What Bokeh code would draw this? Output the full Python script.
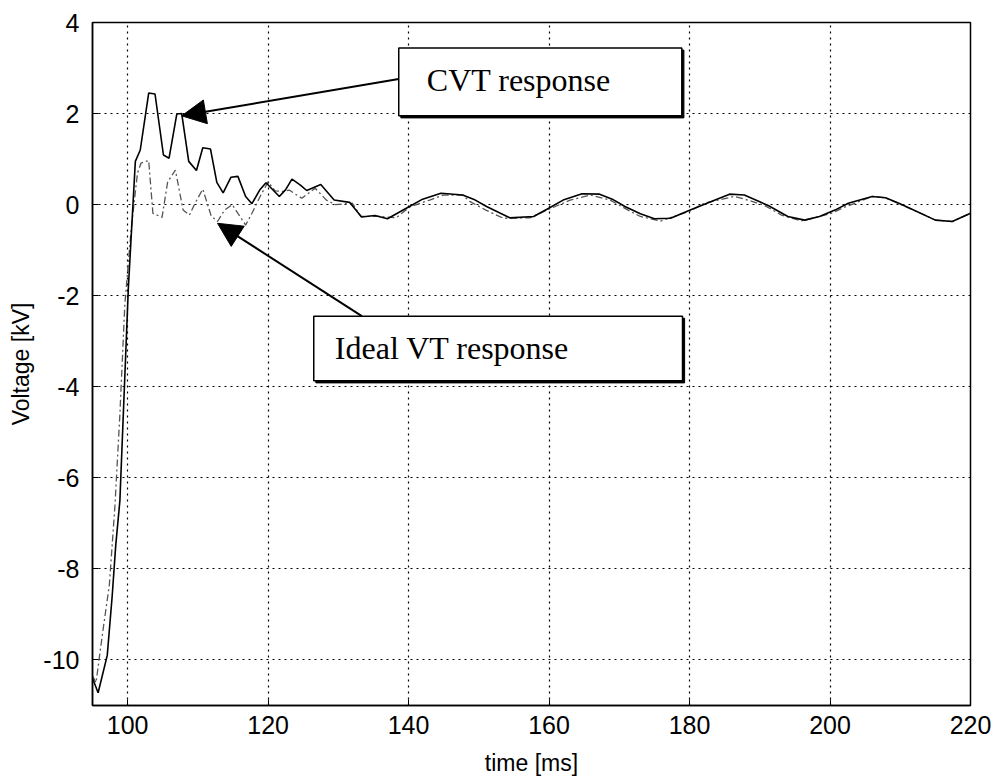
from bokeh.plotting import figure
from bokeh.models import (Arrow, NormalHead, BoxAnnotation, Label, FixedTicker)
from bokeh.embed import file_html
from bokeh.resources import INLINE

# CVT secondary voltage (solid trace)
cvt_t = [95.0, 95.8, 97.1, 97.8, 98.3, 98.9, 100.1, 101.1, 101.8, 103.0, 103.9,
         105.1, 105.9, 107.0, 107.7, 108.7, 109.8, 110.7, 111.8, 112.7, 113.6,
         114.7, 115.7, 116.8, 117.7, 118.8, 119.7, 121.6, 122.5, 123.4, 124.6,
         125.5, 127.5, 129.4, 131.6, 133.3, 135.2, 137.0, 139.8, 142.0, 144.6,
         147.7, 149.5, 151.1, 154.4, 157.8, 159.7, 162.0, 164.7, 167.2, 169.0,
         170.8, 173.0, 175.0, 177.3, 180.1, 183.1, 185.7, 187.8, 191.2, 194.0,
         196.4, 198.5, 200.7, 202.6, 206.0, 207.9, 209.8, 211.9, 215.0, 217.4,
         220.0]
cvt_v = [-10.4, -10.72, -9.9, -8.6, -7.5, -6.5, -1.84, 0.95, 1.2, 2.45, 2.43,
         1.09, 1.02, 1.99, 2.0, 0.95, 0.75, 1.25, 1.22, 0.49, 0.26,
         0.6, 0.62, 0.18, 0.02, 0.32, 0.48, 0.18, 0.33, 0.56, 0.43,
         0.31, 0.44, 0.10, 0.05, -0.27, -0.24, -0.31, -0.07, 0.12, 0.25,
         0.21, 0.10, -0.04, -0.29, -0.26, -0.10, 0.10, 0.24, 0.23, 0.12,
         -0.04, -0.20, -0.31, -0.30, -0.12, 0.07, 0.23, 0.21, -0.02, -0.26,
         -0.34, -0.26, -0.12, 0.03, 0.18, 0.15, 0.03, -0.12, -0.34, -0.37,
         -0.19]

# Ideal VT secondary voltage (dashed trace)
vt_t = [95.0, 95.5, 96.4, 97.4, 98.2, 98.9, 99.6, 100.5, 101.4, 101.9, 103.0,
        103.6, 104.9, 105.7, 106.8, 107.9, 108.8, 109.6, 110.7, 111.9, 112.8,
        113.8, 114.9, 115.7, 116.8, 117.7, 118.9, 120.0, 121.0, 122.2, 123.0,
        124.8, 126.7, 128.3, 129.6, 132.0, 133.2, 135.8, 138.2, 140.3, 143.0,
        144.9, 147.7, 148.7, 151.0, 153.5, 157.3, 159.7, 163.0, 165.9, 168.7,
        171.6, 173.0, 175.9, 180.1, 182.1, 186.4, 188.3, 190.7, 193.1, 195.9,
        200.2, 201.7, 206.0, 207.9, 211.9, 215.0, 217.4, 220.0]
vt_v = [-10.35, -10.5, -9.45, -8.35, -6.6, -4.6, -2.2, -0.55, 0.69, 0.91, 0.97,
        -0.19, -0.28, 0.50, 0.76, -0.12, -0.23, 0.03, 0.34, -0.25, -0.37,
        -0.12, 0.0, -0.19, -0.45, -0.19, 0.19, 0.50, 0.30, 0.29, 0.32,
        0.14, 0.36, 0.10, 0.0, 0.03, -0.26, -0.26, -0.29, -0.04, 0.10,
        0.21, 0.21, 0.07, -0.12, -0.30, -0.29, -0.12, 0.10, 0.21, 0.10,
        -0.15, -0.26, -0.36, -0.14, 0.03, 0.18, 0.10, -0.02, -0.23, -0.36,
        -0.19, -0.08, 0.18, 0.15, -0.12, -0.34, -0.37, -0.19]

x_ticks = [100, 120, 140, 160, 180, 200, 220]
y_ticks = [-10, -8, -6, -4, -2, 0, 2, 4]

TICK_FONT = "Liberation Sans"
NOTE_FONT = "Liberation Serif"

p = figure(width=997, height=782, x_range=(95, 220), y_range=(-11, 4),
           output_backend="svg", toolbar_location=None,
           min_border_left=92, min_border_right=27,
           min_border_top=22, min_border_bottom=77)
p.background_fill_color = "white"
p.border_fill_color = "white"
p.outline_line_color = "black"
p.outline_line_width = 1.5

p.xaxis.ticker = FixedTicker(ticks=x_ticks)
p.yaxis.ticker = FixedTicker(ticks=y_ticks)
# plain hyphen-minus on negative tick labels
p.yaxis.major_label_overrides = {t: str(t) for t in y_ticks}
for ax in (p.xaxis, p.yaxis):
    ax.axis_line_color = "black"
    ax.axis_line_width = 1.5
    ax.major_tick_in = 6
    ax.major_tick_out = 0
    ax.minor_tick_line_color = None
    ax.major_tick_line_color = "black"
    ax.major_label_text_font = TICK_FONT
    ax.major_label_text_font_size = "25px"
    ax.major_label_text_color = "black"
    ax.axis_label_text_font = TICK_FONT
    ax.axis_label_text_font_size = "23px"
    ax.axis_label_text_font_style = "normal"
    ax.axis_label_text_color = "black"
p.xaxis.axis_label = "time [ms]"
p.yaxis.axis_label = "Voltage [kV]"
p.xaxis.major_label_standoff = 10
p.yaxis.major_label_standoff = 13
p.xaxis.axis_label_standoff = 13
p.yaxis.axis_label_standoff = 6

p.grid.grid_line_color = "black"
p.grid.grid_line_dash = "2 4"
p.grid.grid_line_width = 1.2

p.line(vt_t, vt_v, line_color="#555555", line_width=1.3, line_dash="7 3 2 3")
p.line(cvt_t, cvt_v, line_color="black", line_width=1.6)

# annotation boxes with a drop shadow
def note(left, right, top, bottom, text, tx, ty):
    p.add_layout(BoxAnnotation(left=left + 0.3, right=right + 0.3,
                               top=top - 0.045, bottom=bottom - 0.045,
                               fill_color="black", fill_alpha=1.0,
                               line_color="black", line_alpha=1.0))
    p.add_layout(BoxAnnotation(left=left, right=right, top=top, bottom=bottom,
                               fill_color="white", fill_alpha=1.0,
                               line_color="black", line_alpha=1.0,
                               line_width=1.5))
    p.add_layout(Label(x=tx, y=ty, text=text, text_font=NOTE_FONT,
                       text_font_size="32px", text_color="black",
                       text_baseline="middle", text_align="left"))

note(138.6, 178.9, 3.44, 1.95, "CVT response", 142.6, 2.74)
note(126.5, 179.0, -2.45, -3.87, "Ideal VT response", 129.5, -3.15)

p.add_layout(Arrow(x_start=138.6, y_start=2.76, x_end=107.7, y_end=1.95,
                   line_color="black", line_width=2,
                   end=NormalHead(size=24, fill_color="black", line_color="black")))
p.add_layout(Arrow(x_start=133.35, y_start=-2.45, x_end=112.8, y_end=-0.41,
                   line_color="black", line_width=2,
                   end=NormalHead(size=24, fill_color="black", line_color="black")))

open("out.html", "w").write(file_html(p, INLINE))
